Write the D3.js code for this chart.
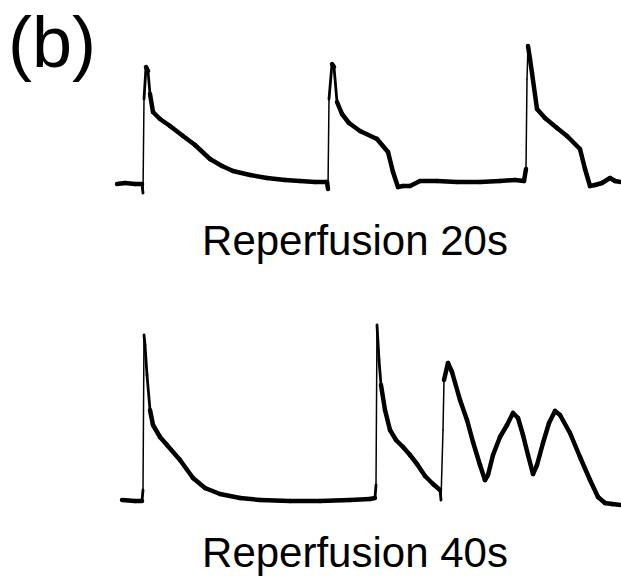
<!DOCTYPE html>
<html>
<head>
<meta charset="utf-8">
<script src="https://cdn.jsdelivr.net/npm/d3@7"></script>
<style>
  body { margin: 0; background: #fff; }
  svg { display: block; }
  text { font-family: "Liberation Sans", Arial, sans-serif; fill: #000; }
</style>
</head>
<body>
<svg id="chart" width="621" height="578"></svg>
<script>
// time in ms, amplitude in mV above resting level
var time20 = [0, 8, 18, 25, 26, 27, 29, 31, 33, 36, 43, 53, 66, 78, 93, 105, 116, 133, 150, 168, 183, 198, 210,
  211, 212, 215, 217, 220, 225, 232, 243, 260, 271, 276, 281, 286, 293, 303, 320, 340, 363, 383, 398, 407,
  409, 410, 411, 413, 415, 420, 428, 440, 450, 463, 468, 473, 478, 485, 493, 498, 504];
var volt20 = [-1, 0, -1, -1, -10, 84, 116, 112, 89, 71, 64, 57, 47, 38, 24, 17, 12, 8, 5, 3, 2, 1, 1,
  -6, 84, 119, 116, 81, 69, 60, 52, 44, 31, 11, -4, -3, -3, 2, 2, 1, 1, 2, 3, 2,
  14, 104, 137, 124, 110, 74, 65, 55, 47, 34, 14, -3, -2, 0, 5, 2, 1];

var time40 = [5, 18, 25, 26, 27, 28, 30, 33, 36, 43, 50, 63, 76, 88, 103, 123, 143, 173, 203, 233, 253, 258,
  259, 260, 262, 264, 268, 273, 279, 286, 293, 300, 308, 316, 323, 324,
  326, 327, 331, 335, 343, 350, 356, 363, 368, 371, 376, 383, 390, 396, 401, 406, 411, 416,
  420, 426, 432, 438, 443, 453, 463, 473, 481, 488, 495, 504];
var volt40 = [0, -1, -1, 10, 165, 155, 125, 90, 75, 63, 55, 40, 22, 12, 6, 2, 0, -1, -1, 0, 1, 2,
  15, 175, 140, 115, 90, 70, 60, 53, 45, 36, 24, 16, 10, 0,
  70, 120, 137, 128, 100, 80, 58, 35, 20, 25, 45, 63, 75, 87, 82, 65, 45, 26,
  35, 57, 77, 89, 85, 67, 43, 20, 3, -3, -4, -5];

var panelLabel = "(b)";
var traceTitles = ["Reperfusion 20s", "Reperfusion 40s"];

var svg = d3.select("#chart");

var x = d3.scaleLinear().domain([0, 504]).range([117, 621]);

var panels = [
  { t: time20, v: volt20, base: 183, title: traceTitles[0], titleY: 255 },
  { t: time40, v: volt40, base: 500, title: traceTitles[1], titleY: 567 }
];

// the recorder pen leaves less ink where the trace moves fast (upstrokes)
function penWidth(slope) {
  if (slope > 25) return 1.5;
  if (slope > 8) return 2.8;
  return 4.5;
}

svg.append("text")
  .attr("x", 8)
  .attr("y", 67)
  .style("font-size", "72px")
  .text(panelLabel);

panels.forEach(function(p) {
  var y = d3.scaleLinear().domain([0, 180]).range([p.base, p.base - 180]);
  var pts = p.t.map(function(d, i) { return [d, p.v[i]]; });
  var segs = d3.pairs(pts);

  var line = d3.line()
    .x(function(d) { return x(d[0]); })
    .y(function(d) { return y(d[1]); });

  svg.append("g")
    .selectAll("path")
    .data(segs)
    .join("path")
    .attr("d", line)
    .style("fill", "none")
    .style("stroke", "#000")
    .style("stroke-linecap", "round")
    .style("stroke-width", function(s) {
      var dx = Math.abs(x(s[1][0]) - x(s[0][0]));
      var dy = Math.abs(y(s[1][1]) - y(s[0][1]));
      return penWidth(dy / Math.max(dx, 0.5));
    });

  svg.append("text")
    .attr("x", 355)
    .attr("y", p.titleY)
    .attr("text-anchor", "middle")
    .style("font-size", "42px")
    .text(p.title);
});
</script>
</body>
</html>
